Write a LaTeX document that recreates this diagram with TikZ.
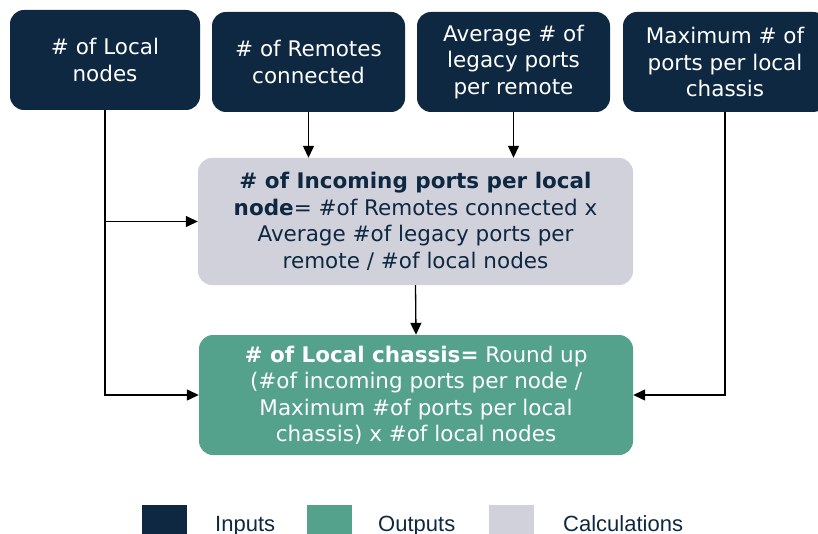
\documentclass[tikz,border=0pt]{standalone}
\usepackage{fontspec}
\setmainfont{DejaVu Sans}
\newfontfamily\legendfont{Liberation Sans}
\usetikzlibrary{arrows.meta}
\definecolor{navy}{HTML}{0E2841}
\definecolor{teal}{HTML}{54A18C}
\definecolor{calcgray}{HTML}{D0D1DB}
\tikzset{
  inbox/.style={draw=none, fill=navy, rounded corners=14pt, text=white, align=center,
    font=\fontsize{21.5}{26.5}\selectfont, inner sep=0pt},
  calcbox/.style={draw=none, fill=calcgray, rounded corners=14pt, text=navy, align=center,
    font=\fontsize{21.5}{26.5}\selectfont, inner sep=0pt, minimum width=435pt, minimum height=127pt},
  outbox/.style={draw=none, fill=teal, rounded corners=14pt, text=white, align=center,
    font=\fontsize{21.5}{26.5}\selectfont, inner sep=0pt, minimum width=434pt, minimum height=120pt},
  arr/.style={draw=black, line width=1.3pt, -{Triangle[length=12pt,width=11pt]}},
  legsq/.style={draw=none, minimum width=45pt, minimum height=32pt, inner sep=0pt, anchor=north west},
  legtxt/.style={anchor=base west, text=navy, font=\legendfont\fontsize{22}{24}\selectfont, inner sep=0pt}
}
\begin{document}
\begin{tikzpicture}[x=1pt,y=-1pt]
\useasboundingbox (0,0) rectangle (818,534);
\node[inbox, minimum width=190pt, minimum height=100pt] (b1) at (105,60) {\# of Local\\nodes};
\node[inbox, minimum width=193pt, minimum height=100pt] (b2) at (308.5,62) {\# of Remotes\\connected};
\node[inbox, minimum width=193pt, minimum height=100pt] (b3) at (513.5,62) {Average \# of\\legacy ports\\per remote};
\node[inbox, minimum width=204pt, minimum height=100pt] (b4) at (725,62) {Maximum \# of\\ports per local\\chassis};
\node[calcbox] (calc) at (415.5,221.5) {\textbf{\# of Incoming ports per local}\\\textbf{node}= \#of Remotes connected x\\Average \#of legacy ports per\\remote / \#of local nodes};
\node[outbox] (out) at (416,395) {\textbf{\# of Local chassis=} Round up\\(\#of incoming ports per node /\\Maximum \#of ports per local\\chassis) x \#of local nodes};
\draw[arr] (b2.south) -- (b2.south |- calc.north);
\draw[arr] (b3.south) -- (b3.south |- calc.north);
\draw[arr] (b1.south) |- (calc.west);
\draw[arr] (b1.south) |- (out.west);
\draw[arr] (b4.south) |- (out.east);
\draw[arr] (calc.south) -- (out.north);
\node[legsq, fill=navy] (l1) at (142,505) {};
\node[legsq, fill=teal] (l2) at (307,505) {};
\node[legsq, fill=calcgray] (l3) at (489,505) {};
\node[legtxt] (t1) at (215,531) {Inputs};
\node[legtxt] (t2) at (378,531) {Outputs};
\node[legtxt] (t3) at (563,531) {Calculations};
\end{tikzpicture}
\end{document}
